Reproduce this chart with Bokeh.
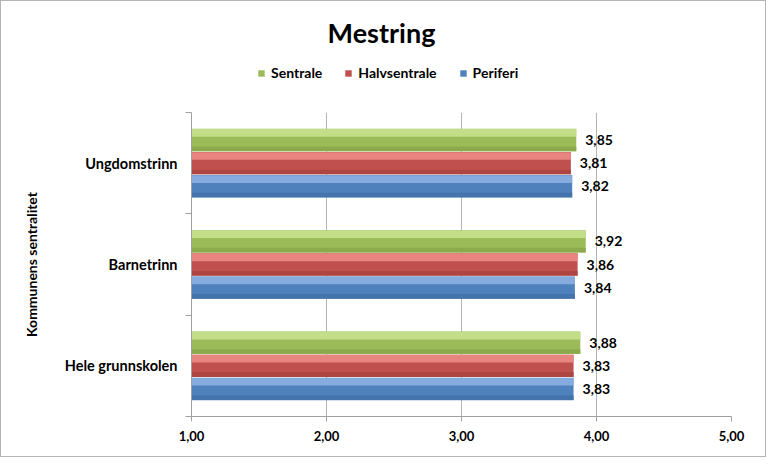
from bokeh.plotting import figure
from bokeh.layouts import column
from bokeh.models import (ColumnDataSource, Range1d, FixedTicker, Legend, LegendItem, Label)
from bokeh.core.properties import value
from bokeh.embed import file_html
from bokeh.resources import INLINE

categories = ["Hele grunnskolen", "Barnetrinn", "Ungdomstrinn"]
series = ["Sentrale", "Halvsentrale", "Periferi"]
sentrale = [3.88, 3.92, 3.85]
halvsentrale = [3.83, 3.86, 3.81]
periferi = [3.83, 3.84, 3.82]
x_ticks = [1, 2, 3, 4, 5]

main_colors = ["#9bbb59", "#c0504d", "#4f81bd"]
light_colors = ["#c4dd89", "#e88581", "#86acdf"]
dark_colors = ["#8caa4c", "#ad4542", "#4573ab"]

FONT = "Lato"
W = 764
H1, H2 = 99, 356
BL, BR = 190, 34          # left / right borders shared by both rows

# ---------- header: title + legend ----------
hdr = figure(width=W, height=H1, output_backend="svg", toolbar_location=None,
             x_range=Range1d(BL, W - BR), y_range=Range1d(0, H1),
             x_axis_location=None, y_axis_location=None,
             min_border_left=BL, min_border_right=BR, min_border_top=0, min_border_bottom=0)
hdr.outline_line_color = None
hdr.grid.visible = False
title = Label(x=W / 2 - 2, y=H1 - 31, text="Mestring",
              text_font=FONT, text_font_style="bold", text_font_size="27px",
              text_align="center", text_baseline="middle", text_color="#000000")
hdr.add_layout(title)
leg_renderers = []
for i, s in enumerate(series):
    # legend-only glyph, kept outside the visible range
    r = hdr.hbar(y=[-1000], right=[BL + 1], left=[BL], height=1,
                 fill_color=main_colors[i], line_color=None)
    leg_renderers.append(r)
legend = Legend(items=[LegendItem(label=s, renderers=[r]) for s, r in zip(series, leg_renderers)],
                orientation="horizontal", location=(66, 19),
                label_text_font=FONT, label_text_font_style="bold",
                label_text_font_size="14px", label_text_color="#000000",
                glyph_width=8, glyph_height=8, spacing=22, label_standoff=6,
                padding=0, margin=0, border_line_color=None, background_fill_alpha=0)
hdr.add_layout(legend, "center")

# ---------- main chart ----------
p = figure(width=W, height=H2, output_backend="svg", toolbar_location=None,
           x_range=Range1d(1, 5), y_range=Range1d(0, 3),
           min_border_left=BL, min_border_right=BR, min_border_top=12, min_border_bottom=40)
p.outline_line_color = None

bh = 0.228
offsets = [bh, 0.0, -bh]
vals = [sentrale, halvsentrale, periferi]
for i, (name, v) in enumerate(zip(series, vals)):
    ys = [k + 0.5 + offsets[i] for k in range(len(categories))]
    src = ColumnDataSource(dict(y=ys, right=v,
                                lab=[f"{x:.2f}".replace(".", ",") for x in v]))
    p.hbar(y="y", right="right", left=1, height=bh * 0.97, source=src,
           fill_color=main_colors[i], line_color=None)
    src_top = ColumnDataSource(dict(y=[y + bh * 0.31 for y in ys], right=v))
    p.hbar(y="y", right="right", left=1, height=bh * 0.33, source=src_top,
           fill_color=light_colors[i], line_color=None)
    src_bot = ColumnDataSource(dict(y=[y - bh * 0.38 for y in ys], right=v))
    p.hbar(y="y", right="right", left=1, height=bh * 0.20, source=src_bot,
           fill_color=dark_colors[i], line_color=None)
    p.text(x="right", y="y", text="lab", source=src, x_offset=9,
           text_font=value(FONT), text_font_style="bold", text_font_size="14px",
           text_baseline="middle", text_align="left", text_color="#000000")

p.xaxis.ticker = FixedTicker(ticks=x_ticks)
p.xaxis.major_label_overrides = {t: f"{t:.2f}".replace(".", ",") for t in x_ticks}
p.xaxis.major_tick_out = 5
p.xaxis.major_tick_in = 0
p.xaxis.minor_tick_line_color = None
p.xaxis.axis_line_color = "#a0a0a0"
p.xaxis.major_tick_line_color = "#a0a0a0"
p.xaxis.major_label_text_font = FONT
p.xaxis.major_label_text_font_style = "bold"
p.xaxis.major_label_text_font_size = "13px"
p.xaxis.major_label_text_color = "#000000"
p.xaxis.major_label_standoff = 9

p.yaxis.ticker = FixedTicker(ticks=[k + 0.5 for k in range(len(categories))],
                             minor_ticks=list(range(len(categories) + 1)))
p.yaxis.major_label_overrides = {k + 0.5: c for k, c in enumerate(categories)}
p.yaxis.major_tick_out = 0
p.yaxis.major_tick_in = 0
p.yaxis.minor_tick_out = 6
p.yaxis.minor_tick_in = 0
p.yaxis.axis_line_color = "#a0a0a0"
p.yaxis.minor_tick_line_color = "#a0a0a0"
p.yaxis.major_label_text_font = FONT
p.yaxis.major_label_text_font_style = "bold"
p.yaxis.major_label_text_font_size = "14.5px"
p.yaxis.major_label_text_color = "#000000"
p.yaxis.major_label_standoff = 8
p.yaxis.axis_label = "Kommunens sentralitet"
p.yaxis.axis_label_text_font = FONT
p.yaxis.axis_label_text_font_style = "bold"
p.yaxis.axis_label_text_font_size = "14px"
p.yaxis.axis_label_text_color = "#000000"
p.yaxis.axis_label_standoff = 22

p.xgrid.grid_line_color = "#b4b4b4"
p.ygrid.grid_line_color = None

layout = column(hdr, p, spacing=0)
layout.styles = {"border": "1px solid #b4b4b4"}

open("out.html", "w").write(file_html(layout, INLINE))
